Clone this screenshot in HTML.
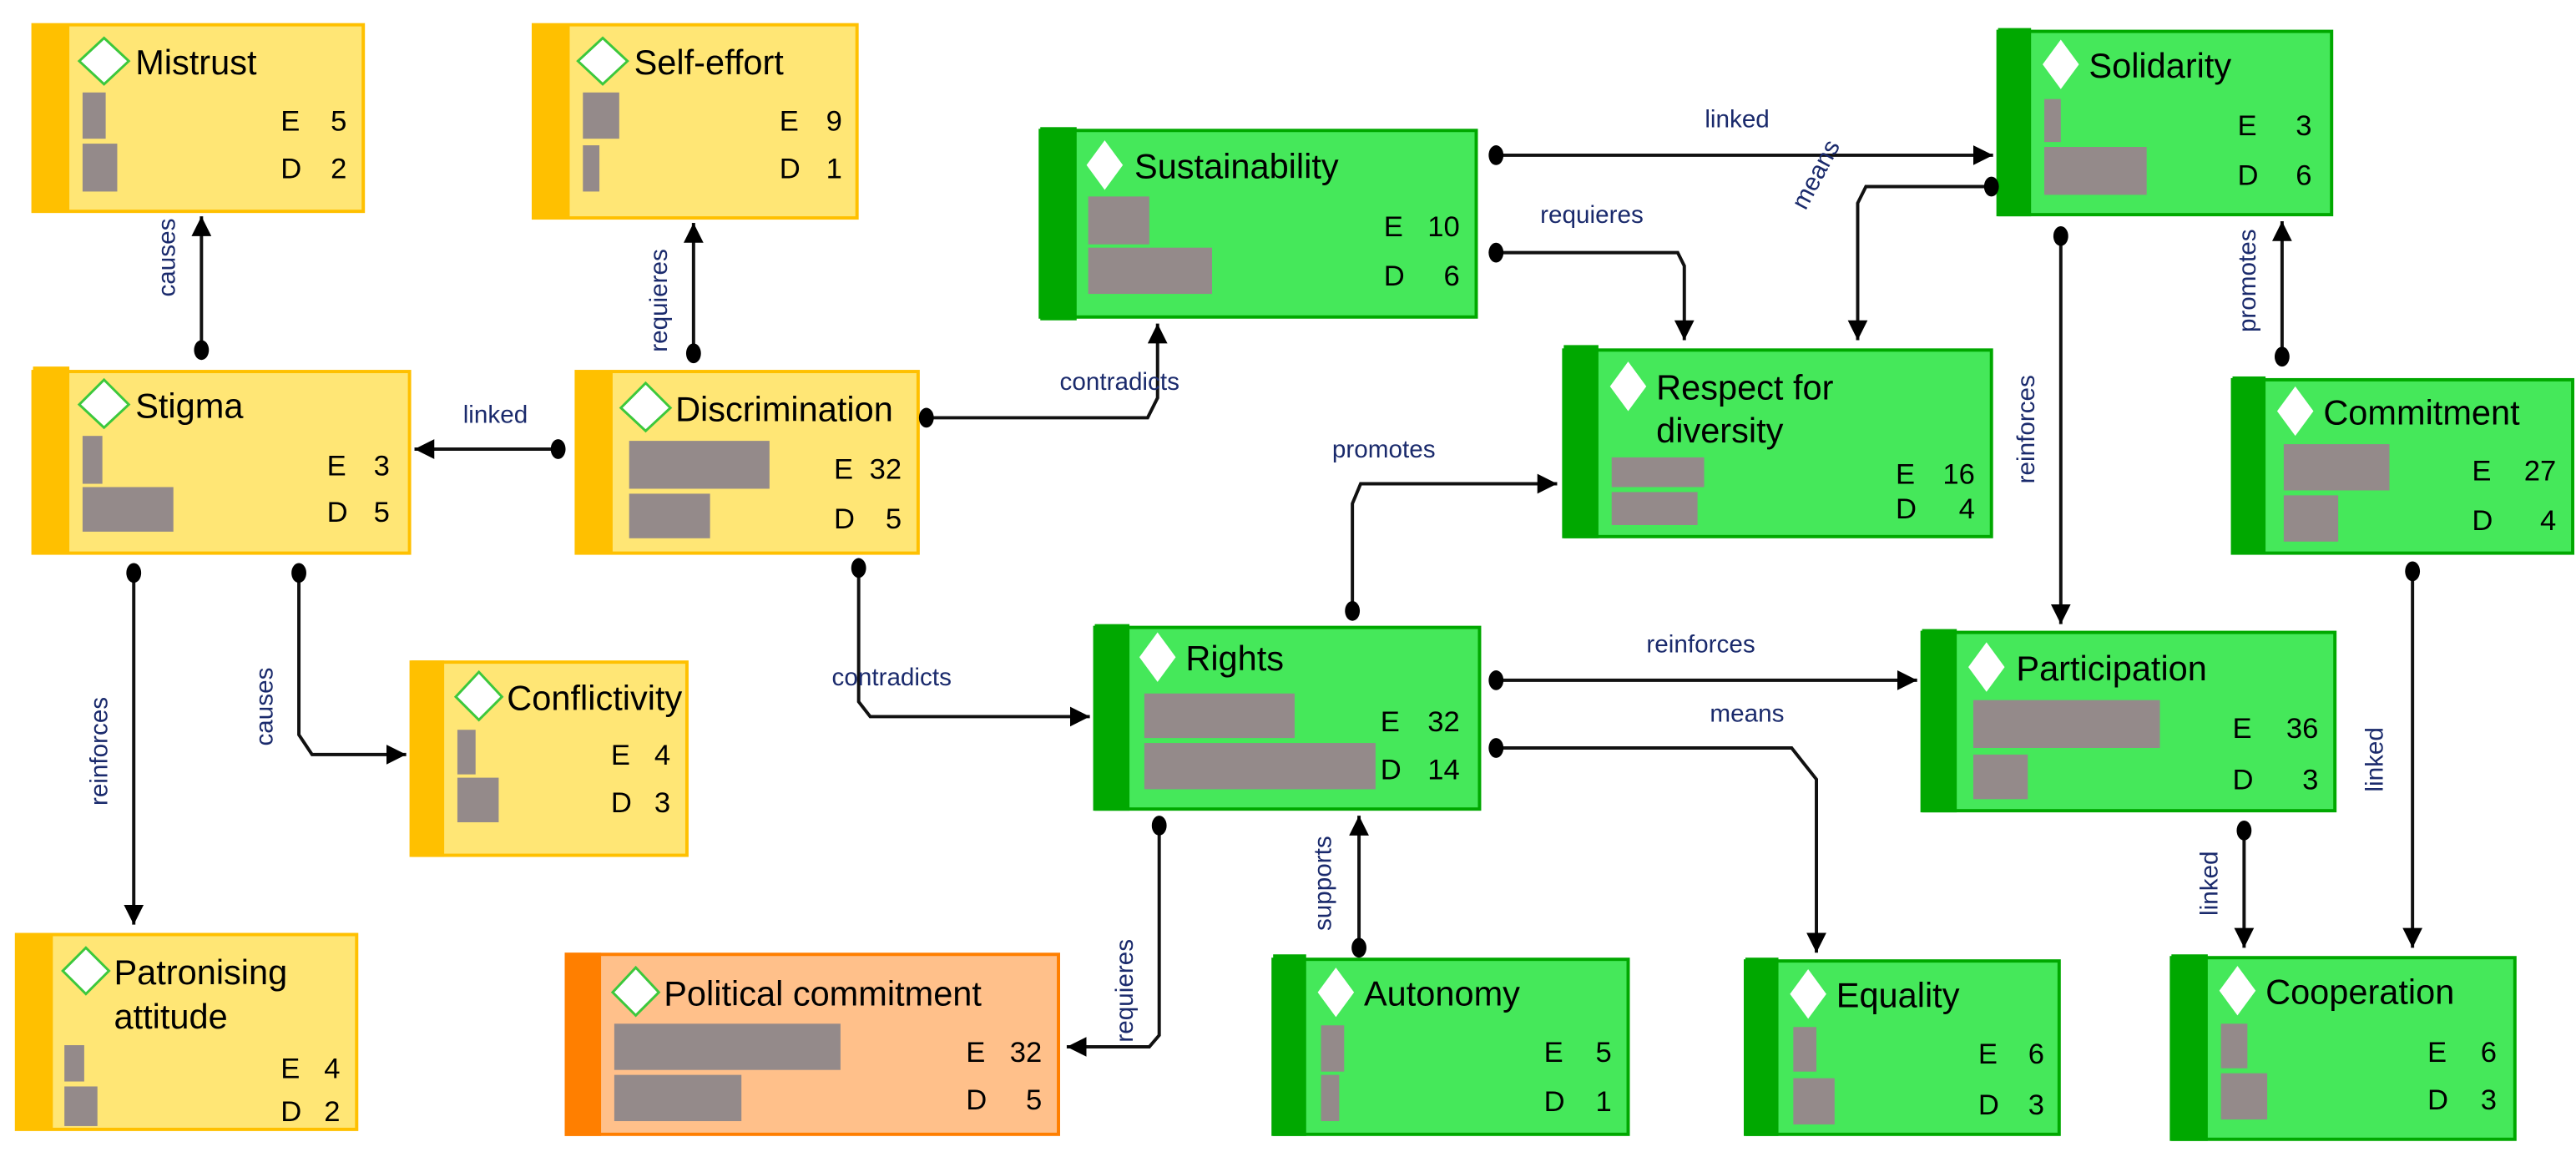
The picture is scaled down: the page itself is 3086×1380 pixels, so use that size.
<!DOCTYPE html>
<html><head><meta charset="utf-8"><style>
html,body{margin:0;padding:0;background:#fff;}
svg{display:block;}
.t{font-family:"Liberation Sans",sans-serif;font-size:21px;fill:#000;}
.n{font-family:"Liberation Sans",sans-serif;font-size:17.5px;fill:#000;}
.l{font-family:"Liberation Sans",sans-serif;font-size:15px;fill:#1a2a6c;}
.ln{fill:none;stroke:#111;stroke-width:2;}
.y{fill:#FFE675;stroke:#FFC000;stroke-width:2;}
.yb{fill:#FFC000;}
.g{fill:#45E85A;stroke:#00A800;stroke-width:2;}
.gb{fill:#00A800;}
.o{fill:#FFC08A;stroke:#FF7F00;stroke-width:2;}
.ob{fill:#FF7F00;}
.bar{fill:#948A8A;}
.dy{fill:#fff;stroke:#3CC83C;stroke-width:1.5;}
.dg{fill:#fff;}
</style></head><body>
<svg width="3086" height="1380" viewBox="0 0 1560 697.7" preserveAspectRatio="none" xmlns="http://www.w3.org/2000/svg">
<defs>
<marker id="a" markerUnits="userSpaceOnUse" markerWidth="14" markerHeight="14" refX="12" refY="6" orient="auto"><path d="M0,0 L12,6 L0,12 z" fill="#000"/></marker>
</defs>

<!-- Mistrust -->
<rect class="y" x="20" y="15" width="200" height="113"/><rect class="yb" x="20" y="15" width="22" height="113"/>
<path class="dy" d="M63,23 L78,37 L63,51 L48,37 z"/><text class="t" x="82" y="45">Mistrust</text>
<rect class="bar" x="50" y="56" width="14" height="28"/><rect class="bar" x="50" y="87" width="21" height="29"/>
<text class="n" x="170" y="79">E</text><text class="n" x="210" y="79" text-anchor="end">5</text>
<text class="n" x="170" y="108">D</text><text class="n" x="210" y="108" text-anchor="end">2</text>

<!-- Self-effort -->
<rect class="y" x="323" y="15" width="196" height="117"/><rect class="yb" x="323" y="15" width="22" height="117"/>
<path class="dy" d="M365,23 L380,37 L365,51 L350,37 z"/><text class="t" x="384" y="45">Self-effort</text>
<rect class="bar" x="353" y="56" width="22" height="28"/><rect class="bar" x="353" y="88" width="10" height="28"/>
<text class="n" x="472" y="79">E</text><text class="n" x="510" y="79" text-anchor="end">9</text>
<text class="n" x="472" y="108">D</text><text class="n" x="510" y="108" text-anchor="end">1</text>

<!-- Stigma -->
<rect class="y" x="20" y="225" width="228" height="110"/><rect class="yb" x="20" y="222" width="22" height="113"/>
<path class="dy" d="M63,230 L78,245 L63,259 L48,245 z"/><text class="t" x="82" y="253">Stigma</text>
<rect class="bar" x="50" y="264" width="12" height="29"/><rect class="bar" x="50" y="295" width="55" height="27"/>
<text class="n" x="198" y="288">E</text><text class="n" x="236" y="288" text-anchor="end">3</text>
<text class="n" x="198" y="316">D</text><text class="n" x="236" y="316" text-anchor="end">5</text>

<!-- Discrimination -->
<rect class="y" x="349" y="225" width="207" height="110"/><rect class="yb" x="349" y="225" width="22" height="110"/>
<path class="dy" d="M391,232 L406,247 L391,261 L376,247 z"/><text class="t" x="409" y="255">Discrimination</text>
<rect class="bar" x="381" y="267" width="85" height="29"/><rect class="bar" x="381" y="299" width="49" height="27"/>
<text class="n" x="505" y="290">E</text><text class="n" x="546" y="290" text-anchor="end">32</text>
<text class="n" x="505" y="320">D</text><text class="n" x="546" y="320" text-anchor="end">5</text>

<!-- Conflictivity -->
<rect class="y" x="249" y="401" width="167" height="117"/><rect class="yb" x="249" y="400" width="20" height="119"/>
<path class="dy" d="M290,407 L304,422 L290,436 L276,422 z"/><text class="t" x="307" y="430">Conflictivity</text>
<rect class="bar" x="277" y="442" width="11" height="27"/><rect class="bar" x="277" y="471" width="25" height="27"/>
<text class="n" x="370" y="463">E</text><text class="n" x="406" y="463" text-anchor="end">4</text>
<text class="n" x="370" y="492">D</text><text class="n" x="406" y="492" text-anchor="end">3</text>

<!-- Patronising attitude -->
<rect class="y" x="10" y="566" width="206" height="118"/><rect class="yb" x="10" y="566" width="22" height="118"/>
<path class="dy" d="M52,574 L66,588 L52,602 L38,588 z"/><text class="t" x="69" y="596">Patronising</text><text class="t" x="69" y="623">attitude</text>
<rect class="bar" x="39" y="633" width="12" height="22"/><rect class="bar" x="39" y="658" width="20" height="24"/>
<text class="n" x="170" y="653">E</text><text class="n" x="206" y="653" text-anchor="end">4</text>
<text class="n" x="170" y="679">D</text><text class="n" x="206" y="679" text-anchor="end">2</text>

<!-- Political commitment -->
<rect class="o" x="343" y="578" width="298" height="109"/><rect class="ob" x="342" y="577" width="22" height="111"/>
<path class="dy" d="M385,586 L399,601 L385,615 L371,601 z"/><text class="t" x="402" y="609">Political commitment</text>
<rect class="bar" x="372" y="620" width="137" height="28"/><rect class="bar" x="372" y="651" width="77" height="28"/>
<text class="n" x="585" y="643">E</text><text class="n" x="631" y="643" text-anchor="end">32</text>
<text class="n" x="585" y="672">D</text><text class="n" x="631" y="672" text-anchor="end">5</text>

<!-- Sustainability -->
<rect class="g" x="630" y="79" width="264" height="113"/><rect class="gb" x="630" y="77" width="22" height="117"/>
<path class="dg" d="M669,85 L680,100 L669,115 L658,100 z"/><text class="t" x="687" y="108">Sustainability</text>
<rect class="bar" x="659" y="119" width="37" height="29"/><rect class="bar" x="659" y="150" width="75" height="28"/>
<text class="n" x="838" y="143">E</text><text class="n" x="884" y="143" text-anchor="end">10</text>
<text class="n" x="838" y="173">D</text><text class="n" x="884" y="173" text-anchor="end">6</text>

<!-- Solidarity -->
<rect class="g" x="1210" y="19" width="202" height="111"/><rect class="gb" x="1210" y="17" width="20" height="114"/>
<path class="dg" d="M1248,24 L1259,39 L1248,54 L1237,39 z"/><text class="t" x="1265" y="47">Solidarity</text>
<rect class="bar" x="1238" y="60" width="10" height="26"/><rect class="bar" x="1238" y="89" width="62" height="29"/>
<text class="n" x="1355" y="82">E</text><text class="n" x="1400" y="82" text-anchor="end">3</text>
<text class="n" x="1355" y="112">D</text><text class="n" x="1400" y="112" text-anchor="end">6</text>

<!-- Respect for diversity -->
<rect class="g" x="947" y="212" width="259" height="113"/><rect class="gb" x="947" y="209" width="21" height="117"/>
<path class="dg" d="M986,219 L997,234 L986,249 L975,234 z"/><text class="t" x="1003" y="242">Respect for</text><text class="t" x="1003" y="268">diversity</text>
<rect class="bar" x="976" y="277" width="56" height="18"/><rect class="bar" x="976" y="298" width="52" height="20"/>
<text class="n" x="1148" y="293">E</text><text class="n" x="1196" y="293" text-anchor="end">16</text>
<text class="n" x="1148" y="314">D</text><text class="n" x="1196" y="314" text-anchor="end">4</text>

<!-- Commitment -->
<rect class="g" x="1352" y="230" width="206" height="105"/><rect class="gb" x="1352" y="228" width="20" height="107"/>
<path class="dg" d="M1390,234 L1401,249 L1390,264 L1379,249 z"/><text class="t" x="1407" y="257">Commitment</text>
<rect class="bar" x="1383" y="269" width="64" height="28"/><rect class="bar" x="1383" y="300" width="33" height="28"/>
<text class="n" x="1497" y="291">E</text><text class="n" x="1548" y="291" text-anchor="end">27</text>
<text class="n" x="1497" y="321">D</text><text class="n" x="1548" y="321" text-anchor="end">4</text>

<!-- Rights -->
<rect class="g" x="663" y="380" width="233" height="110"/><rect class="gb" x="663" y="378" width="21" height="113"/>
<path class="dg" d="M701,383 L712,398 L701,413 L690,398 z"/><text class="t" x="718" y="406">Rights</text>
<rect class="bar" x="693" y="420" width="91" height="27"/><rect class="bar" x="693" y="450" width="140" height="28"/>
<text class="n" x="836" y="443">E</text><text class="n" x="884" y="443" text-anchor="end">32</text>
<text class="n" x="836" y="472">D</text><text class="n" x="884" y="472" text-anchor="end">14</text>

<!-- Participation -->
<rect class="g" x="1164" y="383" width="250" height="108"/><rect class="gb" x="1164" y="381" width="21" height="111"/>
<path class="dg" d="M1203,389 L1214,404 L1203,419 L1192,404 z"/><text class="t" x="1221" y="412">Participation</text>
<rect class="bar" x="1195" y="424" width="113" height="29"/><rect class="bar" x="1195" y="457" width="33" height="27"/>
<text class="n" x="1352" y="447">E</text><text class="n" x="1404" y="447" text-anchor="end">36</text>
<text class="n" x="1352" y="478">D</text><text class="n" x="1404" y="478" text-anchor="end">3</text>

<!-- Autonomy -->
<rect class="g" x="771" y="581" width="215" height="106"/><rect class="gb" x="771" y="578" width="20" height="110"/>
<path class="dg" d="M809,586 L820,601 L809,616 L798,601 z"/><text class="t" x="826" y="609">Autonomy</text>
<rect class="bar" x="800" y="621" width="14" height="28"/><rect class="bar" x="800" y="651" width="11" height="28"/>
<text class="n" x="935" y="643">E</text><text class="n" x="976" y="643" text-anchor="end">5</text>
<text class="n" x="935" y="673">D</text><text class="n" x="976" y="673" text-anchor="end">1</text>

<!-- Equality -->
<rect class="g" x="1057" y="582" width="190" height="105"/><rect class="gb" x="1057" y="580" width="20" height="108"/>
<path class="dg" d="M1095,587 L1106,602 L1095,617 L1084,602 z"/><text class="t" x="1112" y="610">Equality</text>
<rect class="bar" x="1086" y="622" width="14" height="27"/><rect class="bar" x="1086" y="653" width="25" height="28"/>
<text class="n" x="1198" y="644">E</text><text class="n" x="1238" y="644" text-anchor="end">6</text>
<text class="n" x="1198" y="675">D</text><text class="n" x="1238" y="675" text-anchor="end">3</text>

<!-- Cooperation -->
<rect class="g" x="1315" y="580" width="208" height="110"/><rect class="gb" x="1315" y="578" width="22" height="113"/>
<path class="dg" d="M1355,585 L1366,600 L1355,615 L1344,600 z"/><text class="t" x="1372" y="608">Cooperation</text>
<rect class="bar" x="1345" y="620" width="16" height="27"/><rect class="bar" x="1345" y="650" width="28" height="28"/>
<text class="n" x="1470" y="643">E</text><text class="n" x="1512" y="643" text-anchor="end">6</text>
<text class="n" x="1470" y="672">D</text><text class="n" x="1512" y="672" text-anchor="end">3</text>

<!-- Connectors -->
<g>
<path class="ln" marker-end="url(#a)" d="M122,212 L122,131"/><ellipse cx="122" cy="212" rx="4.5" ry="6"/>
<text class="l" transform="translate(106,156) rotate(-90)" text-anchor="middle">causes</text>

<path class="ln" marker-end="url(#a)" d="M420,214 L420,135"/><ellipse cx="420" cy="214" rx="4.5" ry="6"/>
<text class="l" transform="translate(404,182) rotate(-90)" text-anchor="middle">requieres</text>

<path class="ln" marker-end="url(#a)" d="M337,272 L251,272"/><ellipse cx="338" cy="272" rx="4.5" ry="6"/>
<text class="l" x="300" y="256" text-anchor="middle">linked</text>

<path class="ln" marker-end="url(#a)" d="M81,347 L81,560"/><ellipse cx="81" cy="347" rx="4.5" ry="6"/>
<text class="l" transform="translate(65,455) rotate(-90)" text-anchor="middle">reinforces</text>

<path class="ln" marker-end="url(#a)" d="M181,347 L181,445 L189,457 L246,457"/><ellipse cx="181" cy="347" rx="4.5" ry="6"/>
<text class="l" transform="translate(165,428) rotate(-90)" text-anchor="middle">causes</text>

<path class="ln" marker-end="url(#a)" d="M561,253 L695,253 L701,241 L701,196"/><ellipse cx="561" cy="253" rx="4.5" ry="6"/>
<text class="l" x="678" y="236" text-anchor="middle">contradicts</text>

<path class="ln" marker-end="url(#a)" d="M520,344 L520,425 L527,434 L660,434"/><ellipse cx="520" cy="344" rx="4.5" ry="6"/>
<text class="l" x="540" y="415" text-anchor="middle">contradicts</text>

<path class="ln" marker-end="url(#a)" d="M702,500 L702,627 L696,634 L646,634"/><ellipse cx="702" cy="500" rx="4.5" ry="6"/>
<text class="l" transform="translate(686,600) rotate(-90)" text-anchor="middle">requieres</text>

<path class="ln" marker-end="url(#a)" d="M823,574 L823,494"/><ellipse cx="823" cy="574" rx="4.5" ry="6"/>
<text class="l" transform="translate(806,535) rotate(-90)" text-anchor="middle">supports</text>

<path class="ln" marker-end="url(#a)" d="M819,370 L819,305 L824,293 L943,293"/><ellipse cx="819" cy="370" rx="4.5" ry="6"/>
<text class="l" x="838" y="277" text-anchor="middle">promotes</text>

<path class="ln" marker-end="url(#a)" d="M906,412 L1161,412"/><ellipse cx="906" cy="412" rx="4.5" ry="6"/>
<text class="l" x="1030" y="395" text-anchor="middle">reinforces</text>

<path class="ln" marker-end="url(#a)" d="M906,453 L1085,453 L1100,472 L1100,577"/><ellipse cx="906" cy="453" rx="4.5" ry="6"/>
<text class="l" x="1058" y="437" text-anchor="middle">means</text>

<path class="ln" marker-end="url(#a)" d="M906,94 L1207,94"/><ellipse cx="906" cy="94" rx="4.5" ry="6"/>
<text class="l" x="1052" y="77" text-anchor="middle">linked</text>

<path class="ln" marker-end="url(#a)" d="M906,153 L1016,153 L1020,161 L1020,206"/><ellipse cx="906" cy="153" rx="4.5" ry="6"/>
<text class="l" x="964" y="135" text-anchor="middle">requieres</text>

<path class="ln" marker-end="url(#a)" d="M1206,113 L1130,113 L1125,123 L1125,206"/><ellipse cx="1206" cy="113" rx="4.5" ry="6"/>
<text class="l" transform="translate(1104,108) rotate(-62)" text-anchor="middle">means</text>

<path class="ln" marker-end="url(#a)" d="M1248,143 L1248,378"/><ellipse cx="1248" cy="143" rx="4.5" ry="6"/>
<text class="l" transform="translate(1232,260) rotate(-90)" text-anchor="middle">reinforces</text>

<path class="ln" marker-end="url(#a)" d="M1382,216 L1382,134"/><ellipse cx="1382" cy="216" rx="4.5" ry="6"/>
<text class="l" transform="translate(1366,170) rotate(-90)" text-anchor="middle">promotes</text>

<path class="ln" marker-end="url(#a)" d="M1461,346 L1461,574"/><ellipse cx="1461" cy="346" rx="4.5" ry="6"/>
<text class="l" transform="translate(1443,460) rotate(-90)" text-anchor="middle">linked</text>

<path class="ln" marker-end="url(#a)" d="M1359,503 L1359,574"/><ellipse cx="1359" cy="503" rx="4.5" ry="6"/>
<text class="l" transform="translate(1343,535) rotate(-90)" text-anchor="middle">linked</text>
</g>
</svg>
</body></html>
